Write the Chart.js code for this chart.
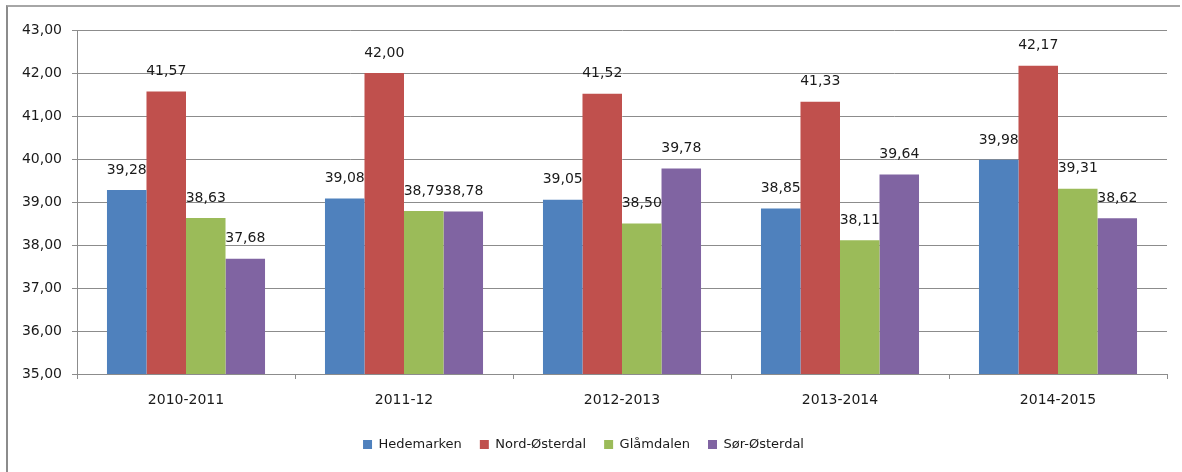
<!DOCTYPE html>
<html>
<head>
<meta charset="utf-8">
<script src="https://cdn.jsdelivr.net/npm/chart.js@4/dist/chart.umd.min.js"></script>
<style>
  html, body { margin: 0; padding: 0; background: #fff; }
  #wrap { position: relative; width: 1182px; height: 472px; }
  #frame { position: absolute; left: 6px; top: 5px; width: 1172px; height: 480px;
           border-left: 2px solid #8c8c8c; border-top: 2px solid #a6a6a6; }
  canvas { position: absolute; left: 0; top: 0; }
</style>
</head>
<body>
<div id="wrap">
  <div id="frame"></div>
  <canvas id="chart" width="1182" height="472"></canvas>
</div>
<script>
const categories = ["2010-2011", "2011-12", "2012-2013", "2013-2014", "2014-2015"];
const series_names = ["Hedemarken", "Nord-Østerdal", "Glåmdalen", "Sør-Østerdal"];
const hedemarken = [39.28, 39.08, 39.05, 38.85, 39.98];
const nord_osterdal = [41.57, 42.00, 41.52, 41.33, 42.17];
const glamdalen = [38.63, 38.79, 38.50, 38.11, 39.31];
const sor_osterdal = [37.68, 38.78, 39.78, 39.64, 38.62];
const y_min = 35;
const y_max = 43;

const colors = ["#4f81bd", "#c0504d", "#9bbb59", "#8064a2"];
const font_family = "'DejaVu Sans', sans-serif";
const grid_color = "#8c8c8c";

function fmt(v) {
  return v.toFixed(2).replace(".", ",");
}

const value_labels = {
  id: "value_labels",
  afterDatasetsDraw(chart) {
    const ctx = chart.ctx;
    ctx.save();
    ctx.font = "14px " + font_family;
    ctx.fillStyle = "#1a1a1a";
    ctx.textAlign = "center";
    ctx.textBaseline = "middle";
    chart.data.datasets.forEach(function(ds, i) {
      chart.getDatasetMeta(i).data.forEach(function(bar, j) {
        ctx.fillText(fmt(ds.data[j]), bar.x, bar.y - 20);
      });
    });
    ctx.restore();
  }
};

const all_values = [hedemarken, nord_osterdal, glamdalen, sor_osterdal];

new Chart(document.getElementById("chart"), {
  type: "bar",
  data: {
    labels: categories,
    datasets: all_values.map(function(vals, i) {
      return {
        label: series_names[i],
        data: vals,
        backgroundColor: colors[i],
        borderWidth: 0,
        categoryPercentage: 0.725,
        barPercentage: 1.0,
      };
    })
  },
  options: {
    responsive: false,
    animation: false,
    layout: { padding: { top: 30, right: 15, bottom: 11, left: 0 } },
    plugins: {
      tooltip: { enabled: false },
      legend: {
        position: "bottom",
        labels: {
          boxWidth: 9,
          boxHeight: 9,
          padding: 18,
          color: "#1a1a1a",
          font: { family: font_family, size: 13 },
        }
      }
    },
    scales: {
      x: {
        grid: { display: true, drawOnChartArea: false, drawTicks: true, tickLength: 5, color: grid_color },
        border: { display: true, color: grid_color },
        ticks: { color: "#1a1a1a", padding: 13, font: { family: font_family, size: 14 } },
        afterFit: function(s) { s.height = 46; }
      },
      y: {
        min: y_min,
        max: y_max,
        grid: { color: grid_color, tickLength: 5 },
        border: { display: true, color: grid_color },
        ticks: {
          stepSize: 1,
          padding: 10,
          color: "#1a1a1a",
          font: { family: font_family, size: 14 },
          callback: function(v) { return fmt(v); }
        },
        afterFit: function(s) { s.width = 77; }
      }
    }
  },
  plugins: [value_labels]
});
</script>
</body>
</html>
